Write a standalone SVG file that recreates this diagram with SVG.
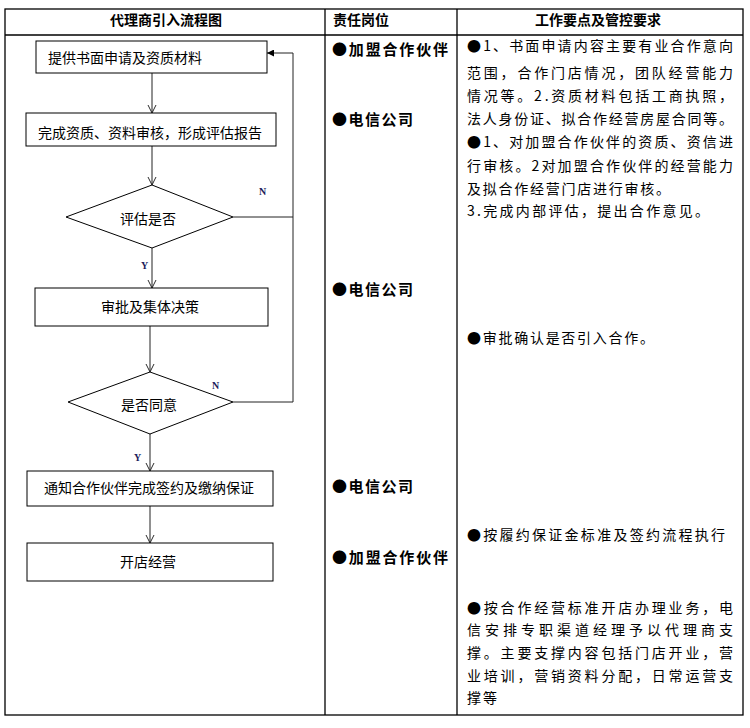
<svg xmlns="http://www.w3.org/2000/svg" width="750" height="728" viewBox="0 0 750 728">
<style>
.tb{fill:none;stroke:#000;stroke-width:1.3}
.bx{fill:#fff;stroke:#000;stroke-width:1}
.cn{fill:none;stroke:#222;stroke-width:1}
.t{font-family:"Noto Sans CJK SC","Noto Sans",sans-serif;font-size:14px;fill:#000}
.h{font-family:"Noto Sans CJK SC","Noto Sans",sans-serif;font-size:14px;font-weight:bold;fill:#000}
.m{font-family:"Noto Sans CJK SC","Noto Sans",sans-serif;font-size:15px;font-weight:bold;fill:#000}
.c{text-anchor:middle}
.yn{font-family:"Liberation Serif",serif;font-size:10px;font-weight:bold;fill:#1c1c5a}
</style>
<defs>
<marker id="arr" viewBox="0 0 10 10" refX="10" refY="5" markerWidth="8" markerHeight="10" markerUnits="userSpaceOnUse" orient="auto">
<path d="M0,0 L10,5 L0,10" fill="none" stroke="#222" stroke-width="1.2"/>
</marker>
<marker id="arrf" viewBox="0 0 10 10" refX="10" refY="5" markerWidth="7" markerHeight="7" markerUnits="userSpaceOnUse" orient="auto">
<path d="M0,0 L10,5 L0,10 z" fill="#000"/>
</marker>
</defs>
<g id="table">
<rect class="tb" x="5" y="9" width="738" height="706"/>
<line class="tb" x1="5" y1="35" x2="743" y2="35"/>
<line class="tb" x1="325" y1="9" x2="325" y2="715"/>
<line class="tb" x1="457" y1="9" x2="457" y2="715"/>
<text class="h c" x="166" y="25">代理商引入流程图</text>
<text class="h" x="333" y="25">责任岗位</text>
<text class="h c" x="598" y="25">工作要点及管控要求</text>
</g>
<g id="connectors">
<line class="cn" x1="152" y1="73" x2="152" y2="113" marker-end="url(#arr)"/>
<line class="cn" x1="152" y1="146" x2="152" y2="185" marker-end="url(#arr)"/>
<line class="cn" x1="152" y1="248" x2="152" y2="288" marker-end="url(#arr)"/>
<line class="cn" x1="150" y1="326" x2="150" y2="372" marker-end="url(#arr)"/>
<line class="cn" x1="150" y1="434" x2="150" y2="471" marker-end="url(#arr)"/>
<line class="cn" x1="150" y1="506" x2="150" y2="543" marker-end="url(#arr)"/>
<line class="cn" x1="233" y1="217" x2="293" y2="217"/>
<polyline class="cn" points="233,402 293,402 293,53 267,53" marker-end="url(#arrf)"/>
<text class="yn" x="259" y="195">N</text>
<text class="yn" x="141" y="269">Y</text>
<text class="yn" x="212" y="389">N</text>
<text class="yn" x="134" y="461">Y</text>
</g>
<g id="n1">
<rect class="bx" x="36" y="41" width="231" height="32"/>
<text class="t" x="48" y="63">提供书面申请及资质材料</text>
</g>
<g id="n2">
<rect class="bx" x="26" y="113" width="250" height="33"/>
<text class="t c" x="150" y="138">完成资质、资料审核，形成评估报告</text>
</g>
<g id="n3">
<polygon class="bx" points="152,185 233,217 152,248 66,217"/>
<text class="t c" x="148" y="224">评估是否</text>
</g>
<g id="n4">
<rect class="bx" x="35" y="288" width="233" height="38"/>
<text class="t c" x="150" y="312">审批及集体决策</text>
</g>
<g id="n5">
<polygon class="bx" points="150,372 233,402 150,434 68,402"/>
<text class="t c" x="149" y="410">是否同意</text>
</g>
<g id="n6">
<rect class="bx" x="27" y="471" width="246" height="35"/>
<text class="t c" x="149" y="493">通知合作伙伴完成签约及缴纳保证</text>
</g>
<g id="n7">
<rect class="bx" x="27" y="543" width="246" height="38"/>
<text class="t c" x="148" y="567">开店经营</text>
</g>
<g id="roles">
<text class="m" x="332" y="55" textLength="116" lengthAdjust="spacing">●加盟合作伙伴</text>
<text class="m" x="332" y="125" textLength="81" lengthAdjust="spacing">●电信公司</text>
<text class="m" x="332" y="295" textLength="81" lengthAdjust="spacing">●电信公司</text>
<text class="m" x="332" y="492" textLength="81" lengthAdjust="spacing">●电信公司</text>
<text class="m" x="332" y="563" textLength="116" lengthAdjust="spacing">●加盟合作伙伴</text>
</g>
<g id="notes">
<text class="t" x="467" y="51" textLength="266" lengthAdjust="spacing">●1、书面申请内容主要有业合作意向</text>
<text class="t" x="467" y="78" textLength="266" lengthAdjust="spacing">范围，合作门店情况，团队经营能力</text>
<text class="t" x="467" y="101" textLength="266" lengthAdjust="spacing">情况等。2.资质材料包括工商执照，</text>
<text class="t" x="467" y="124" textLength="266" lengthAdjust="spacing">法人身份证、拟合作经营房屋合同等。</text>
<text class="t" x="467" y="147" textLength="266" lengthAdjust="spacing">●1、对加盟合作伙伴的资质、资信进</text>
<text class="t" x="467" y="171" textLength="266" lengthAdjust="spacing">行审核。2对加盟合作伙伴的经营能力</text>
<text class="t" x="467" y="194" textLength="203" lengthAdjust="spacing">及拟合作经营门店进行审核。</text>
<text class="t" x="467" y="216" textLength="242" lengthAdjust="spacing">3.完成内部评估，提出合作意见。</text>
<text class="t" x="467" y="343" textLength="187" lengthAdjust="spacing">●审批确认是否引入合作。</text>
<text class="t" x="467" y="540" textLength="258" lengthAdjust="spacing">●按履约保证金标准及签约流程执行</text>
<text class="t" x="467" y="613" textLength="266" lengthAdjust="spacing">●按合作经营标准开店办理业务，电</text>
<text class="t" x="467" y="635" textLength="266" lengthAdjust="spacing">信安排专职渠道经理予以代理商支</text>
<text class="t" x="467" y="658" textLength="266" lengthAdjust="spacing">撑。主要支撑内容包括门店开业，营</text>
<text class="t" x="467" y="681" textLength="266" lengthAdjust="spacing">业培训，营销资料分配，日常运营支</text>
<text class="t" x="467" y="703" textLength="30" lengthAdjust="spacing">撑等</text>
</g>
</svg>
